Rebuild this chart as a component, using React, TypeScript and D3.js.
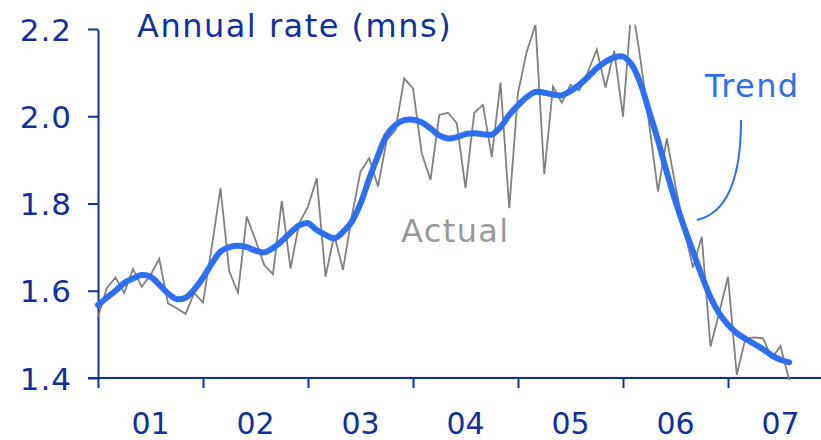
import { useEffect, useRef } from "react";
import * as d3 from "d3";

// monthly, Jan 2001 - Aug 2007
const startYear = 2001;
const years = [2001, 2002, 2003, 2004, 2005, 2006, 2007];
const yTicks = [1.4, 1.6, 1.8, 2.0, 2.2];

const actual = [
  1.54, 1.606, 1.63, 1.595, 1.65, 1.609, 1.636, 1.673, 1.571, 1.56, 1.547, 1.595,
  1.573, 1.7, 1.835, 1.644, 1.596, 1.77, 1.716, 1.659, 1.638, 1.806, 1.651, 1.755,
  1.793, 1.858, 1.632, 1.728, 1.648, 1.77, 1.873, 1.904, 1.839, 1.946, 1.968, 2.087,
  2.064, 1.915, 1.854, 2.003, 2.008, 1.984, 1.835, 2.008, 2.026, 1.907, 2.077, 1.789,
  2.053, 2.148, 2.21, 1.867, 2.068, 2.031, 2.072, 2.059, 2.102, 2.153, 2.066, 2.15,
  1.999, 2.26, 2.13, 1.98, 1.827, 1.949, 1.84, 1.74, 1.653, 1.724, 1.472, 1.55,
  1.632, 1.407, 1.491, 1.493, 1.491, 1.446, 1.473, 1.395
];

const trend = [
  1.567, 1.584, 1.6, 1.618, 1.628, 1.636, 1.632, 1.614, 1.594, 1.581, 1.584, 1.603,
  1.63, 1.662, 1.69, 1.7, 1.703, 1.7, 1.692, 1.688, 1.698, 1.714, 1.733, 1.75,
  1.755, 1.739, 1.728, 1.72, 1.735, 1.758, 1.8, 1.857, 1.91, 1.957, 1.98, 1.991,
  1.992, 1.986, 1.972, 1.956, 1.949, 1.952, 1.959, 1.961, 1.959, 1.958, 1.975, 2.003,
  2.025, 2.044, 2.056, 2.054, 2.05, 2.048, 2.058, 2.072, 2.09, 2.11, 2.125, 2.135,
  2.137, 2.118, 2.075, 2.01, 1.945, 1.872, 1.805, 1.745, 1.69, 1.635, 1.585, 1.548,
  1.522, 1.503, 1.49, 1.478, 1.466, 1.452, 1.442, 1.436
];

const dark = "#12309c";
const blue = "#2e6ff2";
const grey = "#808080";
const font = "'DejaVu Sans', Verdana, sans-serif";

const App = () => {
  const svgRef = useRef<SVGSVGElement | null>(null);

  useEffect(() => {
    const svg = d3.select(svgRef.current);
    svg.selectAll("*").remove();

    const width = 821;
    const height = 440;
    svg.attr("width", width).attr("height", height);

    const x = d3.scaleLinear().domain([2001, 2008]).range([98, 833]);
    const y = d3.scaleLinear().domain([1.4, 2.2]).range([378, 29]);
    const t = (i: number) => startYear + i / 12;

    svg.append("defs").append("clipPath").attr("id", "plotclip")
      .append("rect")
      .attr("x", 0).attr("y", y(2.21))
      .attr("width", width).attr("height", height);

    // y axis
    const ya = svg.append("g")
      .attr("transform", `translate(${x(2001)},0)`)
      .call(d3.axisLeft(y).tickValues(yTicks).tickFormat(d3.format(".1f")).tickSize(10).tickSizeOuter(0).tickPadding(16));
    ya.select(".domain").attr("stroke", dark).attr("stroke-width", 2);
    ya.selectAll(".tick line").attr("stroke", dark).attr("stroke-width", 2);
    ya.selectAll(".tick text")
      .attr("fill", dark).attr("font-size", 31).attr("font-family", font)
      .attr("dy", "0.36em").attr("letter-spacing", 1);

    // x axis
    const xa = svg.append("g")
      .attr("transform", `translate(0,${y(1.4)})`)
      .call(d3.axisBottom(x).tickValues(years).tickFormat(() => "").tickSize(10).tickSizeOuter(0));
    xa.select(".domain").attr("stroke", dark).attr("stroke-width", 2)
      .attr("d", `M${x(2001) - 10},0H${width}`);
    xa.selectAll(".tick line").attr("stroke", dark).attr("stroke-width", 2);

    svg.append("g").selectAll("text")
      .data(years)
      .enter()
      .append("text")
      .attr("x", d => x(d + 0.5))
      .attr("y", 434)
      .attr("text-anchor", "middle")
      .attr("fill", dark)
      .attr("font-size", 30)
      .attr("font-family", font)
      .text(d => String(d % 100).padStart(2, "0"));

    const plot = svg.append("g").attr("clip-path", "url(#plotclip)");

    const line = d3.line<number>()
      .x((_, i) => x(t(i)))
      .y(d => y(d));

    plot.append("path")
      .datum(actual)
      .attr("fill", "none")
      .attr("stroke", grey)
      .attr("stroke-width", 1.8)
      .attr("d", line);

    plot.append("path")
      .datum(trend)
      .attr("fill", "none")
      .attr("stroke", blue)
      .attr("stroke-width", 6)
      .attr("stroke-linecap", "round")
      .attr("d", line.curve(d3.curveCatmullRom));

    // labels
    svg.append("text")
      .attr("x", 137).attr("y", 37)
      .attr("fill", dark).attr("font-size", 32).attr("font-family", font)
      .attr("letter-spacing", 1.5)
      .text("Annual rate (mns)");

    svg.append("text")
      .attr("x", 705).attr("y", 97)
      .attr("fill", blue).attr("font-size", 32).attr("font-family", font)
      .attr("letter-spacing", 1.4)
      .text("Trend");

    svg.append("text")
      .attr("x", 401).attr("y", 242)
      .attr("fill", "#999999").attr("font-size", 32).attr("font-family", font)
      .attr("letter-spacing", 1.4)
      .text("Actual");

    // annotation arc
    svg.append("path")
      .attr("d", "M741,120 Q741,210 697,220")
      .attr("fill", "none")
      .attr("stroke", blue)
      .attr("stroke-width", 2);
  }, []);

  return (
    <div style={{ position: "absolute", left: 0, top: 0 }}>
      <svg ref={svgRef} style={{ display: "block" }}></svg>
    </div>
  );
};

export default App;
